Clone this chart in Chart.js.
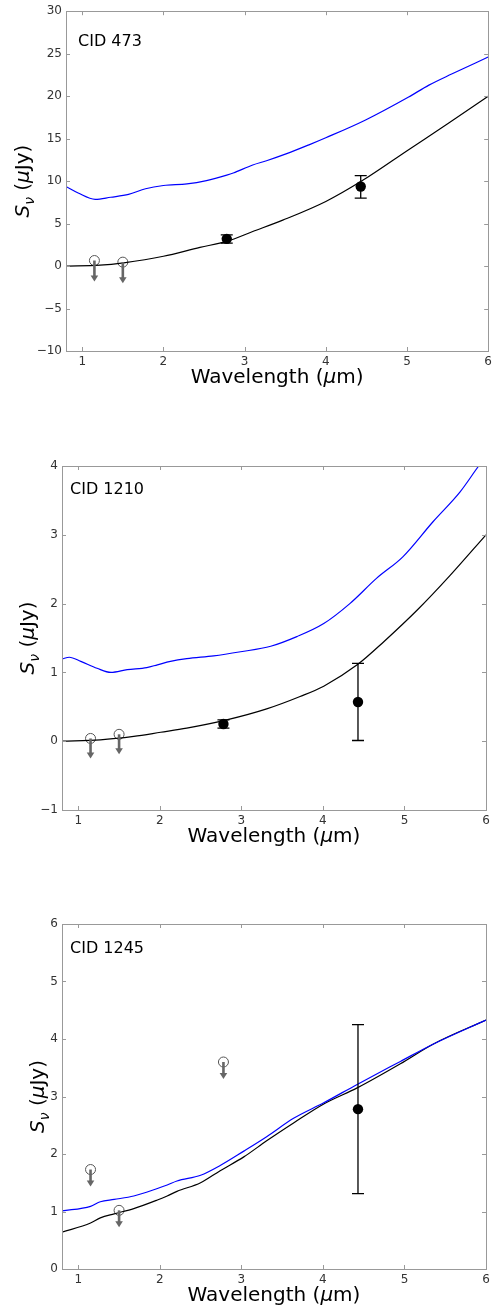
<!DOCTYPE html>
<html>
<head>
<meta charset="utf-8">
<script src="https://cdn.jsdelivr.net/npm/chart.js@4/dist/chart.umd.min.js"></script>
<style>
  html, body { margin: 0; padding: 0; background: #fff; }
  body { width: 496px; height: 1310px; position: relative; overflow: hidden; }
  .panel { position: absolute; left: 0; width: 496px; }
</style>
</head>
<body>
<div class="panel" style="top:0;height:430px"><canvas id="c473"></canvas></div>
<div class="panel" style="top:430px;height:450px"><canvas id="c1210"></canvas></div>
<div class="panel" style="top:880px;height:430px"><canvas id="c1245"></canvas></div>
<script>
// shared x ticks (wavelength, micron)
const xTicks = [1, 2, 3, 4, 5, 6]

// ---- CID 473 ----
const y473Ticks = [-10, -5, 0, 5, 10, 15, 20, 25, 30]
const blue473X = [0.8, 0.95, 1.16, 1.35, 1.57, 1.78, 2.0, 2.29, 2.53, 2.78, 2.86, 3.1, 3.27, 3.51, 3.8, 4.0, 4.49, 5.02, 5.27, 5.55, 6.0]
const blue473Y = [9.36, 8.6, 7.85, 8.1, 8.43, 9.1, 9.48, 9.67, 10.06, 10.7, 10.95, 11.9, 12.4, 13.2, 14.3, 15.1, 17.2, 19.9, 21.3, 22.6, 24.6]
const black473X = [0.8, 1.22, 1.51, 2.0, 2.45, 2.78, 3.1, 3.47, 4.0, 4.45, 5.02, 5.51, 6.0]
const black473Y = [0.0, 0.1, 0.38, 1.15, 2.2, 2.9, 4.06, 5.4, 7.6, 10.06, 13.7, 16.8, 20.0]
const det473X = [2.78, 4.43]
const det473Y = [3.2, 9.36]
const det473Lo = [2.7, 8.0]
const det473Hi = [3.67, 10.64]
const lim473X = [1.15, 1.5]
const lim473Y = [0.65, 0.46]

// ---- CID 1210 ----
const y1210Ticks = [-1, 0, 1, 2, 3, 4]
const blue1210X = [0.8, 0.89, 1.03, 1.23, 1.4, 1.6, 1.84, 1.97, 2.13, 2.33, 2.66, 2.99, 3.36, 3.68, 4.01, 4.33, 4.66, 4.98, 5.35, 5.68, 5.91, 6.0]
const blue1210Y = [1.195, 1.22, 1.16, 1.06, 1.0, 1.04, 1.07, 1.11, 1.16, 1.2, 1.24, 1.3, 1.38, 1.52, 1.71, 2.0, 2.37, 2.68, 3.19, 3.62, 4.0, 4.14]
const black1210X = [0.8, 1.27, 1.68, 2.01, 2.33, 2.82, 3.31, 3.72, 4.01, 4.42, 4.75, 5.16, 5.56, 6.0]
const black1210Y = [0.0, 0.02, 0.07, 0.13, 0.19, 0.31, 0.47, 0.65, 0.8, 1.11, 1.45, 1.91, 2.41, 3.0]
const det1210X = [2.78, 4.43]
const det1210Y = [0.25, 0.57]
const det1210Lo = [0.19, 0.01]
const det1210Hi = [0.31, 1.13]
const lim1210X = [1.15, 1.5]
const lim1210Y = [0.04, 0.1]

// ---- CID 1245 ----
const y1245Ticks = [0, 1, 2, 3, 4, 5, 6]
const blue1245X = [0.8, 1.15, 1.27, 1.44, 1.68, 1.97, 2.09, 2.21, 2.5, 2.74, 3.03, 3.31, 3.64, 4.01, 4.42, 4.95, 5.35, 6.0]
const blue1245Y = [1.01, 1.09, 1.17, 1.21, 1.27, 1.4, 1.46, 1.53, 1.63, 1.8, 2.05, 2.3, 2.62, 2.89, 3.21, 3.61, 3.91, 4.33]
const black1245X = [0.8, 1.15, 1.27, 1.44, 1.68, 1.97, 2.09, 2.21, 2.5, 2.74, 3.03, 3.31, 3.64, 4.01, 4.42, 4.95, 5.35, 6.0]
const black1245Y = [0.64, 0.8, 0.89, 0.96, 1.05, 1.2, 1.27, 1.35, 1.5, 1.71, 1.95, 2.23, 2.54, 2.87, 3.15, 3.57, 3.91, 4.33]
const det1245X = [4.43]
const det1245Y = [2.78]
const det1245Lo = [1.31]
const det1245Hi = [4.25]
const lim1245X = [1.15, 1.5, 2.78]
const lim1245Y = [1.73, 1.02, 3.6]

const FONT = '"DejaVu Sans", "Liberation Sans", sans-serif'

function pts(xs, ys) {
    return xs.map((x, i) => ({ x: x, y: ys[i] }))
}

// draws frame, inward ticks, error bars, upper-limit arrows and the titles
const decor = {
    id: 'decor',
    afterDatasetsDraw(chart, args, o) {
        const ctx = chart.ctx
        const a = chart.chartArea
        const xs = chart.scales.x, ys = chart.scales.y
        ctx.save()

        // error bars on detections
        ctx.strokeStyle = '#000'
        ctx.lineWidth = 1.3
        o.detX.forEach((x, i) => {
            const px = xs.getPixelForValue(x)
            const lo = ys.getPixelForValue(o.detLo[i]), hi = ys.getPixelForValue(o.detHi[i])
            ctx.beginPath()
            ctx.moveTo(px, lo); ctx.lineTo(px, hi)
            ctx.moveTo(px - 6, lo); ctx.lineTo(px + 6, lo)
            ctx.moveTo(px - 6, hi); ctx.lineTo(px + 6, hi)
            ctx.stroke()
        })

        // upper limit arrows
        ctx.fillStyle = '#666'
        ctx.strokeStyle = '#666'
        o.limX.forEach((x, i) => {
            const px = xs.getPixelForValue(x)
            const py = ys.getPixelForValue(o.limY[i])
            const tip = py + o.arrowLen
            ctx.lineWidth = 2.6
            ctx.beginPath()
            ctx.moveTo(px, py); ctx.lineTo(px, tip - 5)
            ctx.stroke()
            ctx.beginPath()
            ctx.moveTo(px - 3.8, tip - 6)
            ctx.lineTo(px + 3.8, tip - 6)
            ctx.lineTo(px, tip)
            ctx.closePath()
            ctx.fill()
        })

        // frame + inward ticks on all sides
        ctx.strokeStyle = '#999'
        ctx.lineWidth = 1
        ctx.strokeRect(Math.round(a.left) + 0.5, Math.round(a.top) + 0.5, Math.round(a.right - a.left), Math.round(a.bottom - a.top))
        ctx.beginPath()
        xs.ticks.forEach(t => {
            const px = Math.round(xs.getPixelForValue(t.value)) + 0.5
            ctx.moveTo(px, a.bottom); ctx.lineTo(px, a.bottom - 4)
            ctx.moveTo(px, a.top); ctx.lineTo(px, a.top + 4)
        })
        ys.ticks.forEach(t => {
            const py = Math.round(ys.getPixelForValue(t.value)) + 0.5
            ctx.moveTo(a.left, py); ctx.lineTo(a.left + 4, py)
            ctx.moveTo(a.right, py); ctx.lineTo(a.right - 4, py)
        })
        ctx.stroke()

        // panel label
        ctx.fillStyle = '#000'
        ctx.font = '16px ' + FONT
        ctx.textBaseline = 'alphabetic'
        ctx.textAlign = 'left'
        ctx.fillText(o.label, a.left + o.labelDx, a.top + o.labelDy)

        // x title: Wavelength (μm)
        const parts = [['Wavelength (', ''], ['\u03bc', 'italic '], ['m)', '']]
        let total = 0
        parts.forEach(p => { ctx.font = p[1] + '20px ' + FONT; total += ctx.measureText(p[0]).width })
        let tx = (a.left + a.right) / 2 - total / 2
        const ty = a.bottom + 27
        ctx.textBaseline = 'middle'
        parts.forEach(p => {
            ctx.font = p[1] + '20px ' + FONT
            ctx.fillText(p[0], tx, ty)
            tx += ctx.measureText(p[0]).width
        })

        // y title: S_ν (μJy), rotated
        ctx.translate(o.yTitleX, (a.top + a.bottom) / 2)
        ctx.rotate(-Math.PI / 2)
        const yparts = [['S', 'italic ', 20, 0], ['\u03bd', 'italic ', 14, 5], [' (', '', 20, 0], ['\u03bc', 'italic ', 20, 0], ['Jy)', '', 20, 0]]
        let w = 0
        yparts.forEach(p => { ctx.font = p[1] + p[2] + 'px ' + FONT; w += ctx.measureText(p[0]).width })
        let yx = -w / 2
        ctx.textBaseline = 'alphabetic'
        yparts.forEach(p => {
            ctx.font = p[1] + p[2] + 'px ' + FONT
            ctx.fillText(p[0], yx, 7 + p[3])
            yx += ctx.measureText(p[0]).width
        })
        ctx.restore()
    }
}

function makePanel(id, cfg) {
    const lineSet = (xs, ys, color) => ({
        data: pts(xs, ys),
        showLine: true,
        borderColor: color,
        borderWidth: 1.2,
        pointRadius: 0,
        cubicInterpolationMode: 'monotone',
        fill: false
    })
    new Chart(document.getElementById(id), {
        type: 'scatter',
        data: {
            datasets: [
                lineSet(cfg.blueX, cfg.blueY, '#0000ff'),
                lineSet(cfg.blackX, cfg.blackY, '#000'),
                {
                    data: pts(cfg.detX, cfg.detY),
                    pointRadius: 5.2,
                    pointBackgroundColor: '#000',
                    pointBorderColor: '#000',
                    pointBorderWidth: 0,
                    showLine: false
                },
                {
                    data: pts(cfg.limX, cfg.limY),
                    pointRadius: 5,
                    pointBackgroundColor: 'rgba(0,0,0,0)',
                    pointBorderColor: '#555',
                    pointBorderWidth: 1,
                    showLine: false
                }
            ]
        },
        options: {
            responsive: true,
            maintainAspectRatio: false,
            animation: false,
            events: [],
            layout: { padding: { top: cfg.padTop, right: cfg.padRight, left: 0, bottom: 0 } },
            plugins: {
                legend: { display: false },
                tooltip: { enabled: false },
                decor: {
                    detX: cfg.detX, detLo: cfg.detLo, detHi: cfg.detHi,
                    limX: cfg.limX, limY: cfg.limY, arrowLen: cfg.arrowLen,
                    label: cfg.label, labelDx: cfg.labelDx, labelDy: cfg.labelDy,
                    yTitleX: cfg.yTitleX
                }
            },
            scales: {
                x: {
                    type: 'linear',
                    min: 0.8, max: 6,
                    afterBuildTicks: s => { s.ticks = xTicks.map(v => ({ value: v })) },
                    afterFit: s => { s.height = cfg.xHeight },
                    grid: { display: false, drawTicks: false },
                    border: { display: false },
                    ticks: { padding: 4, color: '#333', font: { family: FONT, size: 12 }, maxRotation: 0 }
                },
                y: {
                    type: 'linear',
                    min: cfg.yTicks[0], max: cfg.yTicks[cfg.yTicks.length - 1],
                    afterBuildTicks: s => { s.ticks = cfg.yTicks.map(v => ({ value: v })) },
                    afterFit: s => { s.width = cfg.yWidth },
                    grid: { display: false, drawTicks: false },
                    border: { display: false },
                    ticks: {
                        padding: 4, color: '#333', font: { family: FONT, size: 12 },
                        callback: v => String(v).replace('-', '\u2212')
                    }
                }
            }
        },
        plugins: [decor]
    })
}

makePanel('c473', {
    label: 'CID 473', yTicks: y473Ticks,
    blueX: blue473X, blueY: blue473Y, blackX: black473X, blackY: black473Y,
    detX: det473X, detY: det473Y, detLo: det473Lo, detHi: det473Hi,
    limX: lim473X, limY: lim473Y, arrowLen: 21,
    padTop: 7, padRight: 6, yWidth: 66, xHeight: 79, yTitleX: 22,
    labelDx: 12, labelDy: 34.5
})
makePanel('c1210', {
    label: 'CID 1210', yTicks: y1210Ticks,
    blueX: blue1210X, blueY: blue1210Y, blackX: black1210X, blackY: black1210Y,
    detX: det1210X, detY: det1210Y, detLo: det1210Lo, detHi: det1210Hi,
    limX: lim1210X, limY: lim1210Y, arrowLen: 20,
    padTop: 36, padRight: 10, yWidth: 62, xHeight: 70, yTitleX: 27,
    labelDx: 8, labelDy: 27.5
})
makePanel('c1245', {
    label: 'CID 1245', yTicks: y1245Ticks,
    blueX: blue1245X, blueY: blue1245Y, blackX: black1245X, blackY: black1245Y,
    detX: det1245X, detY: det1245Y, detLo: det1245Lo, detHi: det1245Hi,
    limX: lim1245X, limY: lim1245Y, arrowLen: 17,
    padTop: 44, padRight: 10, yWidth: 62, xHeight: 41, yTitleX: 37,
    labelDx: 8, labelDy: 28.5
})
</script>
</body>
</html>
